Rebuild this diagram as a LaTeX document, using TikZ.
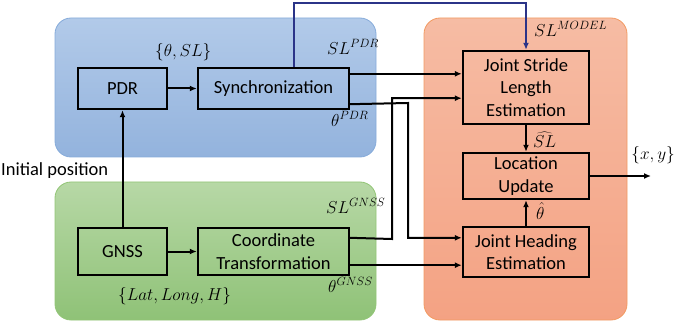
\documentclass[tikz,border=0pt]{standalone}
\usepackage{fontspec}
\setmainfont{Carlito}
\usetikzlibrary{arrows.meta,calc}
\definecolor{bluetop}{HTML}{B2CAE9}
\definecolor{bluebot}{HTML}{93B3DD}
\definecolor{blueline}{HTML}{86ABDA}
\definecolor{greentop}{HTML}{B7D8A6}
\definecolor{greenbot}{HTML}{8FC277}
\definecolor{greenline}{HTML}{92C576}
\definecolor{orangetop}{HTML}{F6BCA4}
\definecolor{orangebot}{HTML}{F4A283}
\definecolor{orangeline}{HTML}{F29A62}
\definecolor{navy}{HTML}{2B3488}
\begin{document}
\begin{tikzpicture}[x=1pt,y=-1pt,
  region/.style={rounded corners=16pt,line width=0.8pt},
  blk/.style={draw=black,line width=2.4pt,align=center,inner sep=0pt,
    font=\fontsize{18.5}{22.5}\selectfont},
  arr/.style={line width=2pt,-{Latex[length=7pt,width=6pt]}},
  lbl/.style={font=\fontsize{18.5}{20}\selectfont,inner sep=0pt,anchor=west}]
\useasboundingbox (0,0) rectangle (675,326);
% regions
\draw[region,draw=blueline,top color=bluetop,bottom color=bluebot] (55,18) rectangle (376,157);
\draw[region,draw=greenline,top color=greentop,bottom color=greenbot] (55,182) rectangle (376,320);
\draw[region,draw=orangeline,top color=orangetop,bottom color=orangebot] (424,18) rectangle (627,320);
% blocks
\node[blk,minimum width=89pt,minimum height=41pt] (pdr) at (122.5,88.5) {PDR};
\node[blk,minimum width=151pt,minimum height=41pt] (sync) at (273.5,88.5) {Synchronization};
\node[blk,minimum width=89pt,minimum height=47pt] (gnss) at (122.5,251.5) {GNSS};
\node[blk,minimum width=151pt,minimum height=47pt] (coord) at (273.5,251.5) {Coordinate\\Transformation};
\node[blk,minimum width=126pt,minimum height=73pt] (js) at (526,87.5) {Joint Stride\\Length\\Estimation};
\node[blk,minimum width=126pt,minimum height=46pt] (lu) at (526,176) {Location\\Update};
\node[blk,minimum width=126pt,minimum height=50pt] (jh) at (526,252) {Joint Heading\\Estimation};
% port / bend coordinates
\coordinate (top1) at (294,3);
\coordinate (top2) at (526,3);
\coordinate (s1) at ([yshift=-7pt]sync.north east);
\coordinate (s2) at ([yshift=6pt]sync.south east);
\coordinate (c1) at ([yshift=-11pt]coord.north east);
\coordinate (c2) at ([yshift=11pt]coord.south east);
\coordinate (b1) at (408,103);
\coordinate (b2) at (392,239);
\coordinate (jhin) at ([yshift=-12pt]jh.north west);
\coordinate (jsin) at ([yshift=27pt]js.south west);
\coordinate (out) at (651,176);
% connectors
\draw[arr] (pdr.east) -- (sync.west);
\draw[arr] (gnss.east) -- (coord.west);
\draw[arr] (gnss.north) -- (pdr.south);
\draw[arr,draw=navy,line width=1.8pt] (sync.north -| top1) -- (top1) -- (top2) -- (js.north);
\draw[arr] (s1) -- (js.west |- s1);
\draw[arr] (s2) -- (b1) -- (b1 |- jhin) -- (jhin);
\draw[arr] (c1) -- (b2) -- (b2 |- jsin) -- (jsin);
\draw[arr] (c2) -- (jh.west |- c2);
\draw[arr] (js.south) -- (lu.north);
\draw[arr] (jh.north) -- (lu.south);
\draw[arr] (lu.east) -- (out);
% labels
\node[lbl] (l1) at (155,52) {$\{\theta,SL\}$};
\node[lbl] (l2) at (327,47) {$SL^{PDR}$};
\node[lbl] (l3) at (331,119) {$\theta^{PDR}$};
\node[lbl] (l4) at (534,29) {$SL^{MODEL}$};
\node[lbl] (l5) at (533,140) {$\widehat{SL}$};
\node[lbl] (l6) at (536,211) {$\hat{\theta}$};
\node[lbl,anchor=east] (l7) at (675,155) {$\{x,y\}$};
\node[lbl] (l8) at (326,206) {$SL^{GNSS}$};
\node[lbl] (l9) at (328,285) {$\theta^{GNSS}$};
\node[lbl] (l10) at (118,296) {$\{Lat,Long,H\}$};
\node[font=\fontsize{18.5}{22}\selectfont,inner sep=0pt,anchor=west] (ip) at (1,171) {Initial position};
\end{tikzpicture}
\end{document}
